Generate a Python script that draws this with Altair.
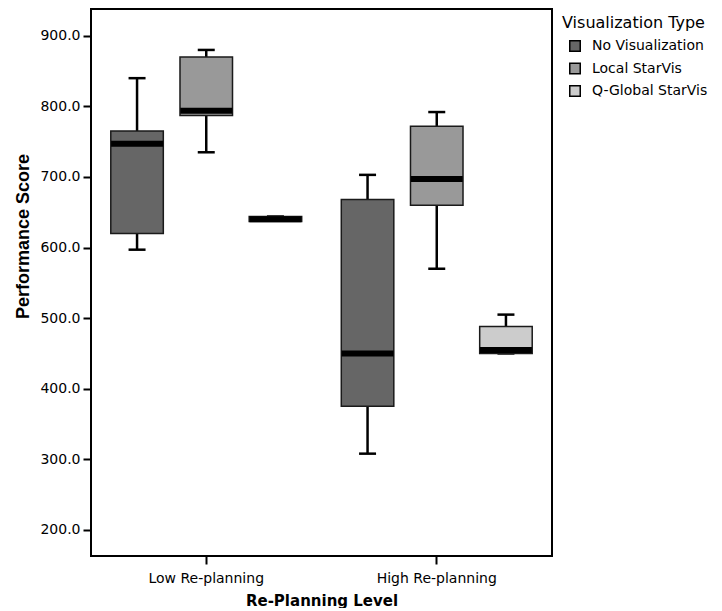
import altair as alt
import pandas as pd

levels = ["Low Re-planning", "High Re-planning"]
types = ["No Visualization", "Local StarVis", "Q-Global StarVis"]
colors = ["#666666", "#999999", "#cccccc"]

# box statistics, order: (Low: NoVis, Local, QGlobal), (High: NoVis, Local, QGlobal)
whisk_low = [597, 735, 638, 308, 570, 450]
q1 = [620, 787, 637, 375, 660, 450]
median = [747, 794, 640, 450, 697, 455]
q3 = [765, 870, 644, 668, 772, 488]
whisk_high = [840, 880, 644, 703, 792, 505]

rows = []
i = 0
for lv in levels:
    for t in types:
        rows.append(dict(level=lv, vtype=t, lo=whisk_low[i], q1=q1[i], med=median[i],
                         q3=q3[i], hi=whisk_high[i]))
        i += 1
df = pd.DataFrame(rows)

FONT = "DejaVu Sans"

x = alt.X("level:N", sort=levels, title="Re-Planning Level",
          scale=alt.Scale(paddingInner=0, paddingOuter=0),
          axis=alt.Axis(labelAngle=0, domain=False, tickSize=8, tickWidth=2, tickColor="black",
                        labelFontSize=14, labelFont=FONT, labelColor="black", labelPadding=7,
                        titleFontSize=15, titleFont=FONT, titleFontWeight="bold", titleColor="black",
                        titlePadding=8))
xo = alt.XOffset("vtype:N", sort=types, scale=alt.Scale(paddingInner=0.241, paddingOuter=0.286))
yscale = alt.Scale(domain=[163, 938], nice=False, zero=False)
yaxis = alt.Axis(values=[200, 300, 400, 500, 600, 700, 800, 900], format=".1f", grid=False,
                 domain=False, tickSize=8, tickWidth=2, tickColor="black",
                 labelFontSize=14, labelFont=FONT, labelColor="black", labelPadding=3,
                 title="Performance Score", titleFontSize=18, titleFont="Liberation Sans",
                 titleFontWeight="bold", titleColor="black", titleAngle=-90,
                 titleAlign="center", titleBaseline="middle", titleX=-68, titleY=227)

base = alt.Chart(df)

whisker = base.mark_rule(color="black", strokeWidth=2.5).encode(
    x=x, xOffset=xo,
    y=alt.Y("lo:Q", scale=yscale, axis=yaxis),
    y2="hi:Q",
)
cap_lo = base.mark_tick(color="black", size=17, thickness=2.5, opacity=1).encode(
    x=x, xOffset=xo, y=alt.Y("lo:Q", scale=yscale))
cap_hi = base.mark_tick(color="black", size=17, thickness=2.5, opacity=1).encode(
    x=x, xOffset=xo, y=alt.Y("hi:Q", scale=yscale))
box = base.mark_bar(stroke="#1a1a1a", strokeWidth=1.5, opacity=1).encode(
    x=x, xOffset=xo,
    y=alt.Y("q1:Q", scale=yscale),
    y2="q3:Q",
    fill=alt.Fill("vtype:N", sort=types, scale=alt.Scale(domain=types, range=colors),
                  legend=alt.Legend(title="Visualization Type", titleFont=FONT, titleFontSize=16,
                                    titleFontWeight="normal", titleColor="black",
                                    labelFont=FONT, labelFontSize=14, labelColor="black",
                                    symbolType="square", symbolSize=110, symbolStrokeColor="black",
                                    symbolStrokeWidth=1.5, symbolOffset=6, labelOffset=10,
                                    rowPadding=4.5, titlePadding=8,
                                    orient="none", legendX=471, legendY=6)),
)
med = base.mark_tick(color="black", size=52, thickness=6, opacity=1).encode(
    x=x, xOffset=xo, y=alt.Y("med:Q", scale=yscale))

chart = alt.layer(whisker, cap_lo, cap_hi, box, med).properties(
    width=461, height=547,
    padding={"left": 6, "top": 1, "right": 0, "bottom": 0},
).configure(background="white").configure_view(stroke="black", strokeWidth=2)

chart.save("out.html", embed_options={"renderer": "svg", "actions": False})
